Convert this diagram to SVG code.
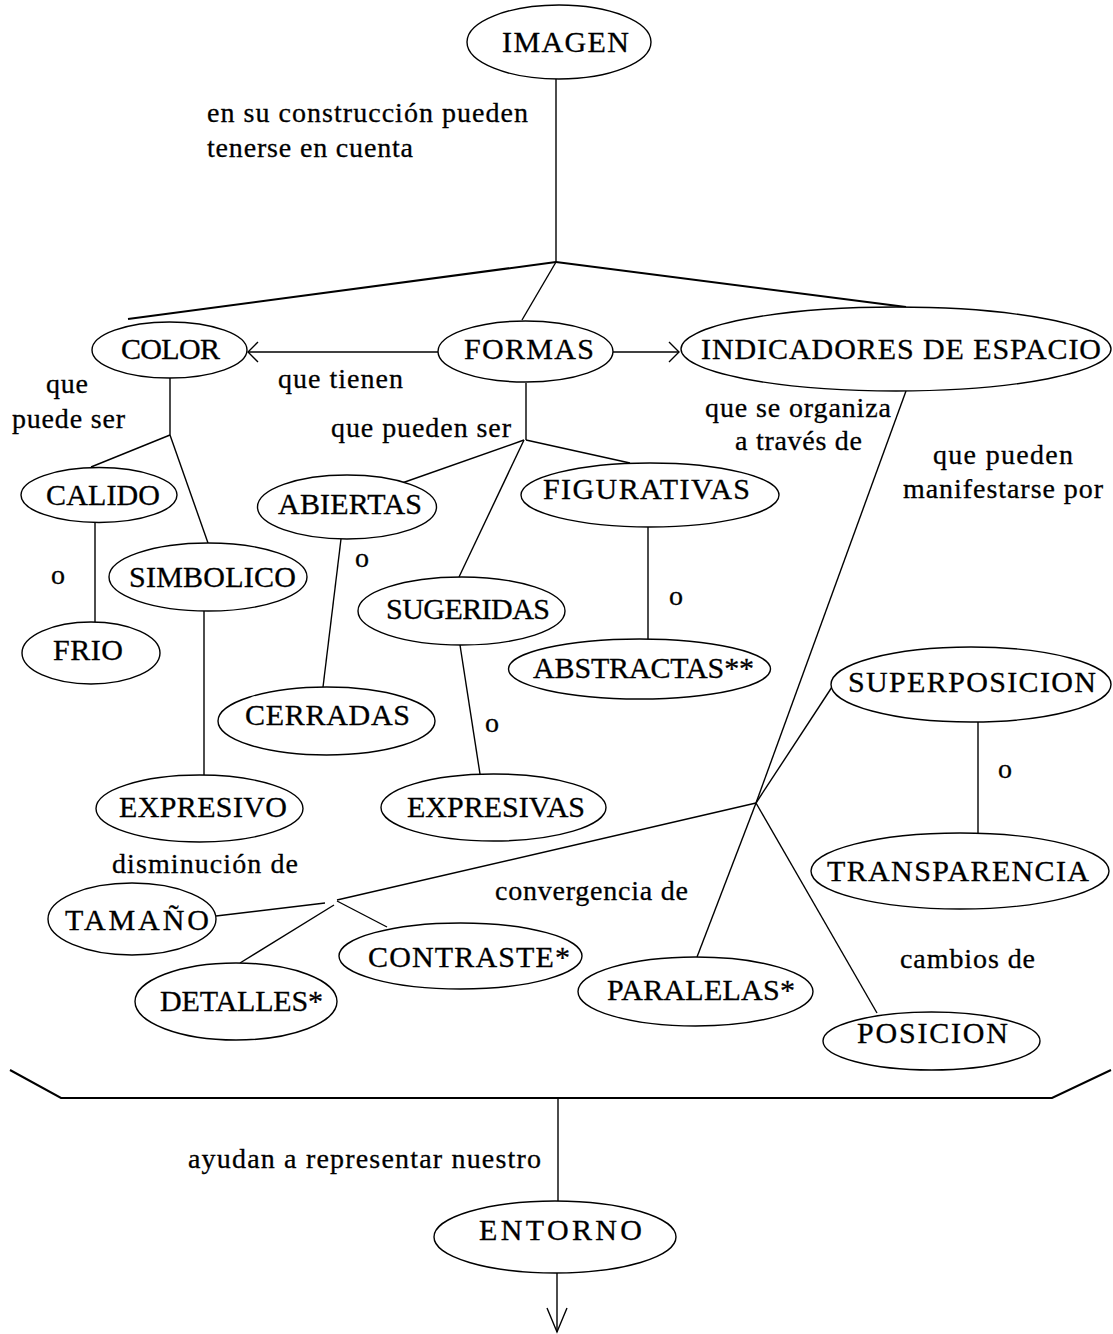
<svg xmlns="http://www.w3.org/2000/svg" width="1113" height="1334" viewBox="0 0 1113 1334">
<style>
.n{fill:#fff;stroke:#000;stroke-width:1.4}
.t{font-family:"Liberation Serif","Times New Roman",serif;font-size:30px;fill:#000;stroke:#000;stroke-width:0.3}
.l{font-family:"Liberation Serif","Times New Roman",serif;font-size:28px;fill:#000;stroke:#000;stroke-width:0.3}
.c{fill:none;stroke:#000;stroke-width:1.4}
.b{fill:none;stroke:#000;stroke-width:2}
</style>
<defs>
<marker id="ah" markerUnits="userSpaceOnUse" markerWidth="14" markerHeight="24" viewBox="-12 -12 14 24" refX="0" refY="0" orient="auto">
<path d="M-10,-10 L0,0 L-10,10" fill="none" stroke="#000" stroke-width="1.4"/>
</marker>
<marker id="ahb" markerUnits="userSpaceOnUse" markerWidth="28" markerHeight="24" viewBox="-26 -12 28 24" refX="0" refY="0" orient="auto">
<path d="M-24,-10 L0,0 L-24,10" fill="none" stroke="#000" stroke-width="1.4"/>
</marker>
</defs>
<rect width="1113" height="1334" fill="#fff"/>
<g id="connectors">
<line class="c" x1="556" y1="79" x2="556" y2="262"/>
<line class="b" x1="556" y1="262" x2="128" y2="319"/>
<line class="c" x1="556" y1="262" x2="522" y2="320"/>
<line class="b" x1="556" y1="262" x2="906" y2="307"/>
<line class="c" x1="438" y1="352" x2="248" y2="352" marker-end="url(#ah)"/>
<line class="c" x1="613" y1="352" x2="679" y2="352" marker-end="url(#ah)"/>
<line class="c" x1="170" y1="378" x2="170" y2="435"/>
<line class="c" x1="170" y1="435" x2="91" y2="467"/>
<line class="c" x1="170" y1="435" x2="208" y2="543"/>
<line class="c" x1="526" y1="383" x2="526" y2="440"/>
<line class="c" x1="524" y1="440" x2="402" y2="483"/>
<line class="c" x1="524" y1="440" x2="459" y2="577"/>
<line class="c" x1="526" y1="440" x2="630" y2="463"/>
<line class="c" x1="95" y1="523" x2="95" y2="622"/>
<line class="c" x1="204" y1="611" x2="204" y2="775"/>
<line class="c" x1="341" y1="539" x2="323" y2="687"/>
<line class="c" x1="460" y1="645" x2="480" y2="774"/>
<line class="c" x1="648" y1="527" x2="648" y2="639"/>
<line class="c" x1="906" y1="391" x2="756" y2="803"/>
<line class="c" x1="756" y1="803" x2="832" y2="687"/>
<line class="c" x1="978" y1="722" x2="978" y2="833"/>
<line class="c" x1="756" y1="803" x2="337" y2="900"/>
<line class="c" x1="325" y1="903" x2="216" y2="916"/>
<line class="c" x1="334" y1="905" x2="240" y2="963"/>
<line class="c" x1="337" y1="901" x2="387" y2="927"/>
<line class="c" x1="756" y1="803" x2="697" y2="957"/>
<line class="c" x1="756" y1="803" x2="877" y2="1013"/>
<polyline class="b" points="10,1070 61,1098 1052,1098 1111,1070"/>
<line class="c" x1="558" y1="1098" x2="558" y2="1201"/>
<line class="c" x1="557" y1="1273" x2="557" y2="1332" marker-end="url(#ahb)"/>
</g>
<g id="labels">
<text class="l" x="207" y="122" textLength="321" lengthAdjust="spacing">en su construcción pueden</text>
<text class="l" x="207" y="157" textLength="206" lengthAdjust="spacing">tenerse en cuenta</text>
<text class="l" x="278" y="388" textLength="125" lengthAdjust="spacing">que tienen</text>
<text class="l" x="46" y="393" textLength="42" lengthAdjust="spacing">que</text>
<text class="l" x="12" y="428" textLength="113" lengthAdjust="spacing">puede ser</text>
<text class="l" x="331" y="437" textLength="180" lengthAdjust="spacing">que pueden ser</text>
<text class="l" x="705" y="417" textLength="186" lengthAdjust="spacing">que se organiza</text>
<text class="l" x="735" y="450" textLength="127" lengthAdjust="spacing">a través de</text>
<text class="l" x="933" y="464" textLength="140" lengthAdjust="spacing">que pueden</text>
<text class="l" x="903" y="498" textLength="200" lengthAdjust="spacing">manifestarse por</text>
<text class="l" x="51" y="584">o</text>
<text class="l" x="355" y="567">o</text>
<text class="l" x="485" y="732">o</text>
<text class="l" x="669" y="605">o</text>
<text class="l" x="998" y="778">o</text>
<text class="l" x="112" y="873" textLength="186" lengthAdjust="spacing">disminución de</text>
<text class="l" x="495" y="900" textLength="193" lengthAdjust="spacing">convergencia de</text>
<text class="l" x="900" y="968" textLength="135" lengthAdjust="spacing">cambios de</text>
<text class="l" x="188" y="1168" textLength="353" lengthAdjust="spacing">ayudan a representar nuestro</text>
</g>
<g id="imagen"><ellipse class="n" cx="559" cy="42" rx="92" ry="37"/><text class="t" x="502" y="52" textLength="127" lengthAdjust="spacing">IMAGEN</text></g>
<g id="color"><ellipse class="n" cx="169.5" cy="350" rx="77.5" ry="28"/><text class="t" x="121" y="359" textLength="99" lengthAdjust="spacing">COLOR</text></g>
<g id="formas"><ellipse class="n" cx="525.5" cy="351.5" rx="87.5" ry="30.5"/><text class="t" x="464" y="359" textLength="130" lengthAdjust="spacing">FORMAS</text></g>
<g id="indicadores"><ellipse class="n" cx="896" cy="349" rx="215" ry="42"/><text class="t" x="701" y="359" textLength="400" lengthAdjust="spacing">INDICADORES DE ESPACIO</text></g>
<g id="calido"><ellipse class="n" cx="99" cy="495" rx="78" ry="27.5"/><text class="t" x="46" y="505" textLength="114" lengthAdjust="spacing">CALIDO</text></g>
<g id="simbolico"><ellipse class="n" cx="208" cy="577" rx="99" ry="34"/><text class="t" x="129" y="587" textLength="167" lengthAdjust="spacing">SIMBOLICO</text></g>
<g id="frio"><ellipse class="n" cx="91" cy="653" rx="69" ry="31"/><text class="t" x="53" y="660" textLength="70" lengthAdjust="spacing">FRIO</text></g>
<g id="abiertas"><ellipse class="n" cx="347" cy="507" rx="89.5" ry="32"/><text class="t" x="278" y="514" textLength="144" lengthAdjust="spacing">ABIERTAS</text></g>
<g id="sugeridas"><ellipse class="n" cx="461.5" cy="611" rx="103.5" ry="34"/><text class="t" x="386" y="619" textLength="164" lengthAdjust="spacing">SUGERIDAS</text></g>
<g id="figurativas"><ellipse class="n" cx="650" cy="495" rx="129" ry="32"/><text class="t" x="543" y="499" textLength="207" lengthAdjust="spacing">FIGURATIVAS</text></g>
<g id="abstractas"><ellipse class="n" cx="639.5" cy="669" rx="131" ry="30"/><text class="t" x="533" y="678" textLength="221" lengthAdjust="spacing">ABSTRACTAS**</text></g>
<g id="cerradas"><ellipse class="n" cx="326.5" cy="721" rx="108.5" ry="34"/><text class="t" x="245" y="725" textLength="165" lengthAdjust="spacing">CERRADAS</text></g>
<g id="expresivo"><ellipse class="n" cx="199.5" cy="808.5" rx="103.5" ry="33.5"/><text class="t" x="119" y="817" textLength="168" lengthAdjust="spacing">EXPRESIVO</text></g>
<g id="expresivas"><ellipse class="n" cx="493.5" cy="807.5" rx="112.5" ry="33.5"/><text class="t" x="407" y="817" textLength="178" lengthAdjust="spacing">EXPRESIVAS</text></g>
<g id="superposicion"><ellipse class="n" cx="971" cy="684.5" rx="140" ry="37.5"/><text class="t" x="848" y="692" textLength="248" lengthAdjust="spacing">SUPERPOSICION</text></g>
<g id="transparencia"><ellipse class="n" cx="960" cy="871" rx="149" ry="38"/><text class="t" x="827" y="881" textLength="262" lengthAdjust="spacing">TRANSPARENCIA</text></g>
<g id="tamano"><ellipse class="n" cx="132" cy="919" rx="84" ry="36"/><text class="t" x="65" y="930" textLength="144" lengthAdjust="spacing">TAMAÑO</text></g>
<g id="contraste"><ellipse class="n" cx="460.5" cy="956" rx="121.5" ry="33"/><text class="t" x="368" y="967" textLength="202" lengthAdjust="spacing">CONTRASTE*</text></g>
<g id="detalles"><ellipse class="n" cx="236" cy="1001.5" rx="101" ry="38.5"/><text class="t" x="160" y="1011" textLength="163" lengthAdjust="spacing">DETALLES*</text></g>
<g id="paralelas"><ellipse class="n" cx="695.5" cy="991.5" rx="117.5" ry="34.5"/><text class="t" x="607" y="1000" textLength="188" lengthAdjust="spacing">PARALELAS*</text></g>
<g id="posicion"><ellipse class="n" cx="931.5" cy="1041" rx="108.5" ry="29"/><text class="t" x="857" y="1043" textLength="151" lengthAdjust="spacing">POSICION</text></g>
<g id="entorno"><ellipse class="n" cx="555" cy="1237" rx="121" ry="36"/><text class="t" x="479" y="1240" textLength="163" lengthAdjust="spacing">ENTORNO</text></g>
</svg>
